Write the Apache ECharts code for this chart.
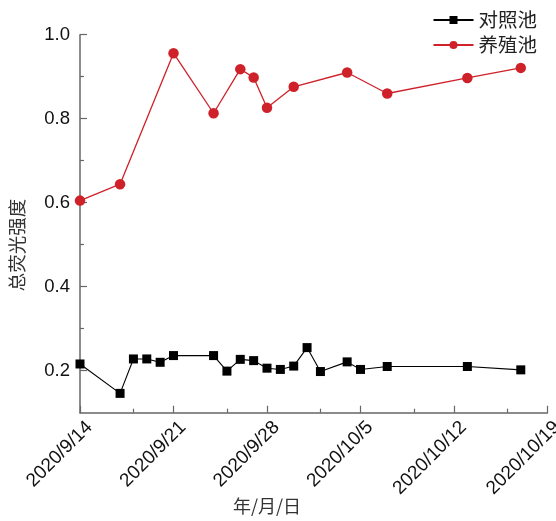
<!DOCTYPE html>
<html>
<head>
<meta charset="utf-8">
<script src="https://cdn.jsdelivr.net/npm/echarts@6/dist/echarts.min.js"></script>
<style>
  html, body { margin: 0; padding: 0; background: #fff; }
  #chart { width: 556px; height: 521px; }
</style>
</head>
<body>
<div id="chart"></div>
<script>
// Sampling dates and total fluorescence intensity for the two ponds
const controlDates = ['2020/9/14', '2020/9/17', '2020/9/18', '2020/9/19', '2020/9/20', '2020/9/21',
  '2020/9/24', '2020/9/25', '2020/9/26', '2020/9/27', '2020/9/28', '2020/9/29', '2020/9/30',
  '2020/10/1', '2020/10/2', '2020/10/4', '2020/10/5', '2020/10/7', '2020/10/13', '2020/10/17'];
const controlValues = [0.216, 0.146, 0.228, 0.228, 0.220, 0.236, 0.236, 0.199, 0.227, 0.224,
  0.206, 0.203, 0.211, 0.255, 0.198, 0.221, 0.203, 0.210, 0.210, 0.202];

const cultureDates = ['2020/9/14', '2020/9/17', '2020/9/21', '2020/9/24', '2020/9/26', '2020/9/27',
  '2020/9/28', '2020/9/30', '2020/10/4', '2020/10/7', '2020/10/13', '2020/10/17'];
const cultureValues = [0.605, 0.644, 0.956, 0.813, 0.918, 0.898, 0.826, 0.876, 0.910, 0.860, 0.897, 0.921];

const seriesNames = ['对照池', '养殖池'];

// Axis ticks
const xTickLabels = ['2020/9/14', '2020/9/21', '2020/9/28', '2020/10/5', '2020/10/12', '2020/10/19'];
const xMinorTickDates = ['2020/9/18', '2020/9/25', '2020/10/2', '2020/10/9', '2020/10/16'];
const yTickValues = [0.2, 0.4, 0.6, 0.8, 1.0];
const yMinorTickValues = [0.3, 0.5, 0.7, 0.9];

const DAY = 86400000;
function toMs(s) {
  const p = s.split('/').map(Number);
  return Date.UTC(p[0], p[1] - 1, p[2]);
}
const origin = toMs(xTickLabels[0]);
function dayOf(s) { return Math.round((toMs(s) - origin) / DAY); }
function fmtDay(d) {
  const dt = new Date(origin + d * DAY);
  return dt.getUTCFullYear() + '/' + (dt.getUTCMonth() + 1) + '/' + dt.getUTCDate();
}

const xMajor = xTickLabels.map(dayOf);
const xMinor = xMinorTickDates.map(dayOf);
const xMax = xMajor[xMajor.length - 1];

const axisColor = '#666';
const numFont = "'Liberation Sans', Arial, sans-serif";
const cjkFont = "'Noto Sans CJK SC', sans-serif";
const red = '#cf2129';

const chart = echarts.init(document.getElementById('chart'));
chart.setOption({
  animation: false,
  backgroundColor: '#fff',
  grid: { left: 80, right: 8.5, top: 34.7, bottom: 108.3, containLabel: false, outerBoundsMode: 'none' },
  legend: {
    orient: 'vertical',
    right: 14,
    top: 5,
    itemWidth: 40,
    itemHeight: 10,
    itemGap: 5,
    data: seriesNames,
    textStyle: { fontFamily: cjkFont, fontSize: 19.5, color: '#222', lineHeight: 20 }
  },
  xAxis: [{
    type: 'value',
    min: 0,
    max: xMax,
    splitLine: { show: false },
    axisLine: { onZero: false, lineStyle: { color: axisColor, width: 1.5 } },
    axisTick: { inside: true, length: 7, customValues: xMajor, lineStyle: { color: axisColor, width: 1.2 } },
    axisLabel: {
      customValues: xMajor,
      rotate: 45,
      margin: 2,
      verticalAlign: 'top',
      padding: [4, 0, 0, 0],
      fontFamily: numFont,
      fontSize: 19,
      color: '#111',
      formatter: fmtDay
    }
  }, {
    type: 'value',
    min: 0,
    max: xMax,
    position: 'bottom',
    splitLine: { show: false },
    axisLine: { show: false, onZero: false },
    axisTick: { inside: true, length: 4, customValues: xMinor, lineStyle: { color: axisColor, width: 1.2 } },
    axisLabel: { show: false }
  }],
  yAxis: [{
    type: 'value',
    min: 0.1,
    max: 1.0,
    splitLine: { show: false },
    axisLine: { show: true, onZero: false, lineStyle: { color: axisColor, width: 1.5 } },
    axisTick: { show: true, inside: true, length: 7, customValues: yTickValues, lineStyle: { color: axisColor, width: 1.2 } },
    axisLabel: {
      customValues: yTickValues,
      margin: 10,
      fontFamily: numFont,
      fontSize: 18.5,
      color: '#111',
      formatter: v => v.toFixed(1)
    }
  }, {
    type: 'value',
    min: 0.1,
    max: 1.0,
    position: 'left',
    splitLine: { show: false },
    axisLine: { show: false, onZero: false },
    axisTick: { show: true, inside: true, length: 4, customValues: yMinorTickValues, lineStyle: { color: axisColor, width: 1.2 } },
    axisLabel: { show: false }
  }],
  graphic: [{
    type: 'text',
    x: 17,
    y: 245,
    rotation: Math.PI / 2,
    style: {
      text: '总荧光强度',
      font: "18.5px 'Noto Sans CJK SC', sans-serif",
      fill: '#333',
      align: 'center',
      verticalAlign: 'middle'
    }
  }, {
    type: 'text',
    x: 267,
    y: 506,
    style: {
      text: '年/月/日',
      font: "18px 'Noto Sans CJK SC', sans-serif",
      fill: '#333',
      align: 'center',
      verticalAlign: 'middle'
    }
  }],
  series: [{
    name: seriesNames[0],
    type: 'line',
    clip: false,
    symbol: 'rect',
    symbolSize: 9,
    itemStyle: { color: '#000' },
    lineStyle: { color: '#000', width: 1.1 },
    data: controlDates.map((d, i) => [dayOf(d), controlValues[i]])
  }, {
    name: seriesNames[1],
    type: 'line',
    clip: false,
    symbol: 'circle',
    symbolSize: 10.5,
    itemStyle: { color: red },
    lineStyle: { color: red, width: 1.3 },
    data: cultureDates.map((d, i) => [dayOf(d), cultureValues[i]])
  }]
});
</script>
</body>
</html>
